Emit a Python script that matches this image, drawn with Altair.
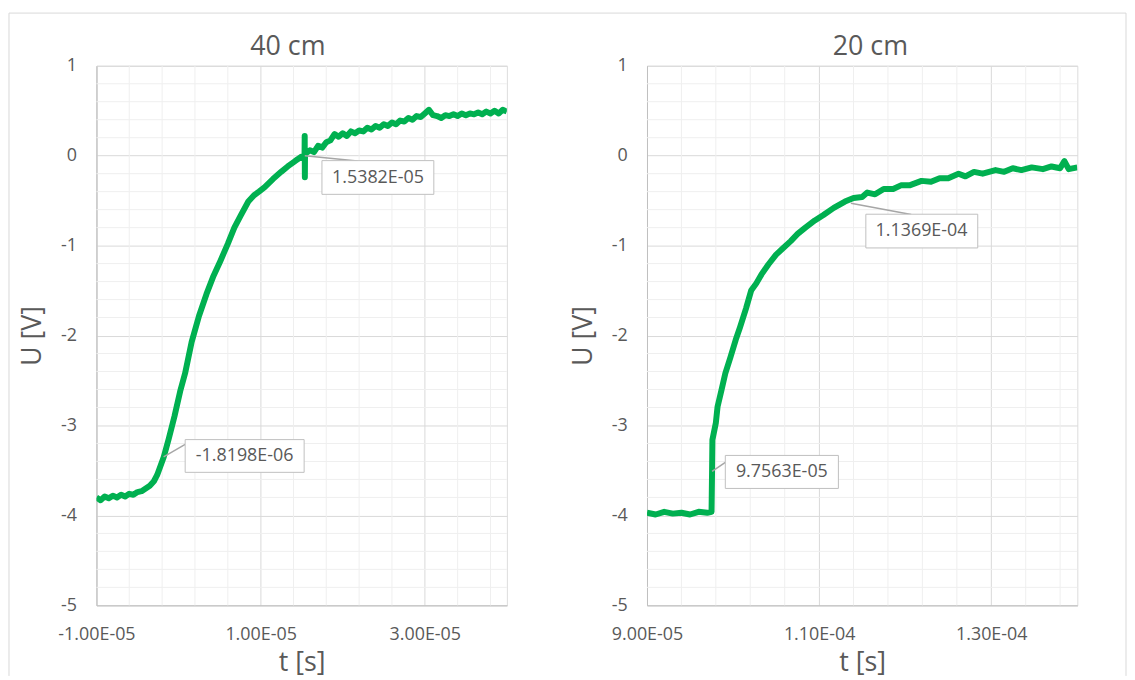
import altair as alt
import pandas as pd

# ---------------- data ----------------
# 40 cm panel: time [s], voltage [V]
t40 = [-1.00e-5, -0.95e-5, -0.90e-5, -0.85e-5, -0.80e-5, -0.75e-5, -0.70e-5, -0.65e-5,
       -0.60e-5, -0.55e-5, -0.50e-5, -0.45e-5, -0.40e-5, -0.35e-5, -0.30e-5, -0.26e-5,
       -0.22e-5, -0.18e-5, -0.12e-5, -0.05e-5, 0.02e-5, 0.08e-5, 0.16e-5, 0.25e-5,
       0.34e-5, 0.42e-5, 0.51e-5, 0.60e-5, 0.68e-5, 0.76e-5, 0.85e-5, 0.92e-5,
       0.98e-5, 1.05e-5, 1.15e-5, 1.25e-5, 1.33e-5, 1.42e-5, 1.50e-5, 1.535e-5,
       1.537e-5, 1.539e-5, 1.541e-5,
       1.60e-5, 1.65e-5, 1.70e-5, 1.75e-5, 1.80e-5, 1.85e-5, 1.90e-5, 1.95e-5,
       2.00e-5, 2.05e-5, 2.10e-5, 2.15e-5, 2.20e-5, 2.25e-5, 2.30e-5, 2.35e-5,
       2.40e-5, 2.45e-5, 2.50e-5, 2.55e-5, 2.60e-5, 2.65e-5, 2.70e-5, 2.75e-5,
       2.80e-5, 2.85e-5, 2.90e-5, 2.95e-5, 3.00e-5, 3.05e-5, 3.10e-5, 3.15e-5,
       3.20e-5, 3.25e-5, 3.30e-5, 3.35e-5, 3.40e-5, 3.45e-5, 3.50e-5, 3.55e-5,
       3.60e-5, 3.65e-5, 3.70e-5, 3.75e-5, 3.80e-5, 3.85e-5, 3.90e-5, 3.95e-5,
       4.00e-5]
u40 = [-3.80, -3.83, -3.79, -3.81, -3.78, -3.80, -3.77, -3.79,
       -3.76, -3.77, -3.74, -3.73, -3.70, -3.67, -3.62, -3.55,
       -3.45, -3.35, -3.15, -2.90, -2.62, -2.42, -2.07, -1.78,
       -1.54, -1.35, -1.17, -0.98, -0.80, -0.66, -0.51, -0.44,
       -0.40, -0.35, -0.26, -0.18, -0.12, -0.06, -0.01, 0.00,
       0.22, -0.24, 0.02,
       0.06, 0.04, 0.11, 0.09, 0.15, 0.17, 0.24, 0.21,
       0.25, 0.22, 0.27, 0.25, 0.28, 0.27, 0.31, 0.29,
       0.33, 0.31, 0.35, 0.33, 0.37, 0.35, 0.39, 0.38,
       0.42, 0.40, 0.44, 0.43, 0.47, 0.51, 0.45, 0.44,
       0.42, 0.45, 0.44, 0.46, 0.44, 0.47, 0.45, 0.47,
       0.46, 0.48, 0.46, 0.49, 0.47, 0.50, 0.47, 0.51,
       0.49]

# 20 cm panel: time [s], voltage [V]
t20 = [9.00e-5, 9.10e-5, 9.20e-5, 9.30e-5, 9.40e-5, 9.50e-5, 9.60e-5, 9.70e-5,
       9.750e-5, 9.756e-5, 9.760e-5, 9.80e-5, 9.82e-5, 9.867e-5, 9.91e-5, 9.97e-5,
       10.03e-5, 10.08e-5, 10.15e-5, 10.21e-5, 10.27e-5, 10.33e-5, 10.41e-5, 10.50e-5,
       10.58e-5, 10.67e-5, 10.75e-5, 10.84e-5, 10.95e-5, 11.05e-5, 11.17e-5, 11.30e-5,
       11.40e-5, 11.50e-5, 11.56e-5, 11.65e-5, 11.75e-5, 11.86e-5, 11.95e-5, 12.05e-5,
       12.19e-5, 12.30e-5, 12.40e-5, 12.50e-5, 12.62e-5, 12.70e-5, 12.80e-5, 12.90e-5,
       13.05e-5, 13.15e-5, 13.25e-5, 13.35e-5, 13.47e-5, 13.60e-5, 13.70e-5, 13.80e-5,
       13.85e-5, 13.90e-5, 14.00e-5]
u20 = [-3.97, -3.99, -3.96, -3.98, -3.97, -3.99, -3.96, -3.97,
       -3.96, -3.50, -3.16, -2.97, -2.79, -2.60, -2.42, -2.24,
       -2.05, -1.91, -1.70, -1.50, -1.42, -1.32, -1.21, -1.10,
       -1.03, -0.95, -0.87, -0.80, -0.72, -0.66, -0.58, -0.51,
       -0.47, -0.46, -0.41, -0.43, -0.37, -0.37, -0.33, -0.33,
       -0.28, -0.29, -0.25, -0.25, -0.20, -0.23, -0.18, -0.20,
       -0.16, -0.18, -0.14, -0.16, -0.13, -0.15, -0.12, -0.14,
       -0.06, -0.15, -0.13]

# axis ticks / grid values
y_major = [-5, -4, -3, -2, -1, 0, 1]
y_minor = [-4.8, -4.6, -4.4, -4.2, -3.8, -3.6, -3.4, -3.2, -2.8, -2.6, -2.4, -2.2,
           -1.8, -1.6, -1.4, -1.2, -0.8, -0.6, -0.4, -0.2, 0.2, 0.4, 0.6, 0.8]
x40_major = [-1.0e-5, 1.0e-5, 3.0e-5]
x40_minor = [-0.6e-5, -0.2e-5, 0.2e-5, 0.6e-5, 1.4e-5, 1.8e-5, 2.2e-5, 2.6e-5, 3.4e-5, 3.8e-5]
x20_major = [9.0e-5, 11.0e-5, 13.0e-5]
x20_minor = [9.4e-5, 9.8e-5, 10.2e-5, 10.6e-5, 11.4e-5, 11.8e-5, 12.2e-5, 12.6e-5, 13.4e-5, 13.8e-5]

# data labels
ann40_text = ["1.5382E-05", "-1.8198E-06"]
ann20_text = ["1.1369E-04", "9.7563E-05"]

# ---------------- styling / placement ----------------
FONT = "Open Sans"
GRAY = "#595959"
GREEN = "#00B050"

ann40_box = dict(x1=[1.747e-5, 0.081e-5], x2=[3.11e-5, 1.53e-5],
                 y1=[-0.055, -3.157], y2=[-0.43, -3.521],
                 tx=[2.43e-5, 0.805e-5], ty=[-0.245, -3.34])
ann40_lead = dict(x=[1.5382e-5, -0.18198e-5], y=[0.0, -3.35],
                  x2=[2.18e-5, 0.081e-5], y2=[-0.058, -3.21])
ann20_box = dict(x1=[11.543e-5, 9.91e-5], x2=[12.843e-5, 11.224e-5],
                 y1=[-0.651, -3.333], y2=[-1.026, -3.70],
                 tx=[12.19e-5, 10.567e-5], ty=[-0.84, -3.52])
ann20_lead = dict(x=[11.369e-5, 9.7563e-5], y=[-0.53, -3.51],
                  x2=[12.07e-5, 9.91e-5], y2=[-0.655, -3.41])

X_LABEL = "(datum.value < 0 ? '-' : '') + replace(format(abs(datum.value), '.2e'), 'e-', 'E-0')"
Y_LABEL = "datum.value < 0 ? '-' + abs(datum.value) : '' + datum.value"

H = 543


def panel(title, title_x, t, u, xdom, xmajor, xminor, ann_text, box, lead, width, borders):
    xscale = alt.Scale(domain=xdom, nice=False, zero=False)
    yscale = alt.Scale(domain=[-5, 1], nice=False, zero=False)
    xaxis = alt.Axis(values=xmajor, title="t [s]", labelExpr=X_LABEL, grid=True,
                     gridColor="#d9d9d9", domainColor="#bfbfbf", ticks=False, tickSize=0,
                     labelFontSize=18, labelColor=GRAY, labelPadding=20, labelFlush=False,
                     labelFont=FONT, titleFont=FONT, titleFontSize=27, titleColor=GRAY,
                     titleFontWeight="normal", titleY=58, titleBaseline="middle")
    yaxis = alt.Axis(values=y_major, title="U [V]", labelExpr=Y_LABEL, grid=True,
                     gridColor="#d9d9d9", domainColor="#bfbfbf", ticks=False, tickSize=0,
                     labelFontSize=18, labelColor=GRAY, labelPadding=20, labelFont=FONT,
                     titleFont=FONT, titleFontSize=27, titleColor=GRAY,
                     titleFontWeight="normal", titleX=-64, titleY=H / 2,
                     titleBaseline="middle")

    def X(f):
        return alt.X(f, type="quantitative", scale=xscale, axis=xaxis)

    def Y(f):
        return alt.Y(f, type="quantitative", scale=yscale, axis=yaxis)

    vminor = alt.Chart(pd.DataFrame({"t": xminor})).mark_rule(
        color="#efefef", strokeWidth=1).encode(x=X("t"))
    hminor = alt.Chart(pd.DataFrame({"u": y_minor})).mark_rule(
        color="#efefef", strokeWidth=1).encode(y=Y("u"))

    df = pd.DataFrame({"t": t, "u": u, "i": list(range(len(t)))})
    line = alt.Chart(df).mark_line(color=GREEN, strokeWidth=6, strokeJoin="round",
                                   clip=True).encode(
        x=X("t"), y=Y("u"), order=alt.Order("i:Q"))

    ld = pd.DataFrame(lead)
    leaders = alt.Chart(ld).mark_rule(color="#a6a6a6", strokeWidth=1.5).encode(
        x=X("x"), y=Y("y"), x2="x2:Q", y2="y2:Q")

    bd = pd.DataFrame({**box, "label": ann_text})
    boxes = alt.Chart(bd).mark_rect(fill="white", stroke="#bfbfbf", strokeWidth=1).encode(
        x=X("x1"), x2="x2:Q", y=Y("y1"), y2="y2:Q")
    texts = alt.Chart(bd).mark_text(font=FONT, fontSize=18, color=GRAY,
                                    align="center", baseline="middle").encode(
        x=X("tx"), y=Y("ty"), text="label:N")

    bdf = pd.DataFrame({"a": [0]})
    heading = alt.Chart(bdf).mark_text(font=FONT, fontSize=27, color=GRAY,
                                       align="center", baseline="alphabetic",
                                       text=title).encode(
        x=alt.value(title_x), y=alt.value(-11))

    layers = [vminor, hminor, line, leaders, boxes, texts, heading]
    for b in borders:
        layers.append(alt.Chart(bdf).mark_rule(color="#d9d9d9", strokeWidth=1).encode(**b))

    return alt.layer(*layers).properties(width=width, height=H)


left_borders = [
    dict(x=alt.value(-88), x2=alt.value(1036), y=alt.value(-53)),
    dict(x=alt.value(-88), y=alt.value(-53), y2=alt.value(614)),
]
right_borders = [
    dict(x=alt.value(482), y=alt.value(-53), y2=alt.value(614)),
]

left = panel("40 cm", 192.6, t40, u40, [-1e-5, 4e-5], x40_major, x40_minor,
             ann40_text, ann40_box, ann40_lead, 413, left_borders)
right = panel("20 cm", 224.7, t20, u20, [9e-5, 1.4e-4], x20_major, x20_minor,
              ann20_text, ann20_box, ann20_lead, 433, right_borders)

chart = alt.hconcat(left, right, spacing=141, bounds="flush",
                    padding={"left": 0, "top": 2, "right": 0, "bottom": 0}
                    ).configure_view(stroke=None).configure(background="white")

chart.save("out.html", embed_options={"renderer": "svg", "actions": False})
